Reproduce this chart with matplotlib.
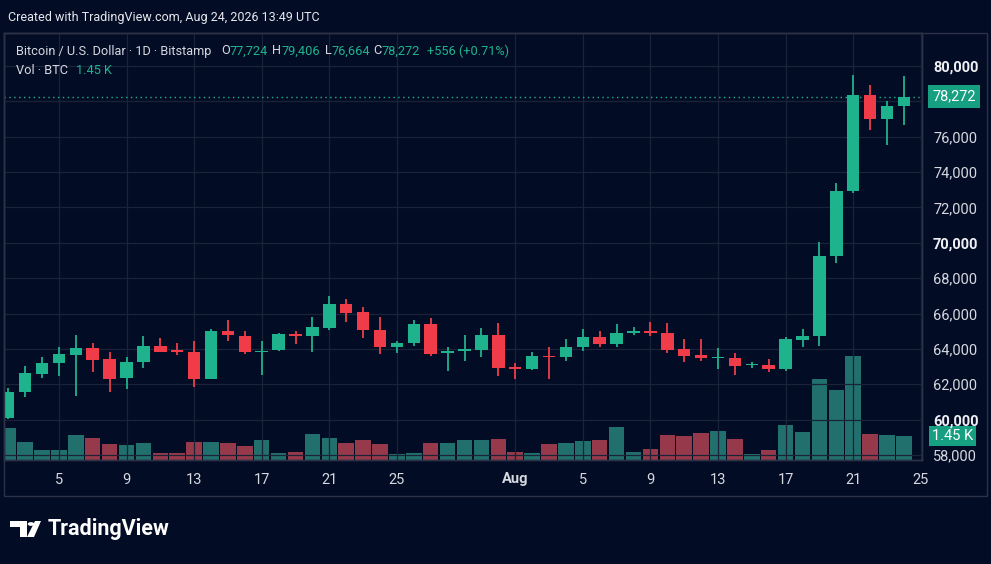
import matplotlib
matplotlib.use("Agg")
import matplotlib.pyplot as plt
from matplotlib.patches import Rectangle, Circle, Polygon
from matplotlib.transforms import blended_transform_factory
import numpy as np

plt.rcParams['font.family'] = ['Roboto', 'DejaVu Sans']

# daily candles, 2 Jul .. 24 Aug 2026 (BTC/USD, Bitstamp)
opens = [60070, 61580, 62580, 63185, 63640, 64050, 63410, 62340, 63240, 64180,
         63900, 63840, 62310, 65030, 64750, 63820, 63940, 64830, 64750, 65180,
         66540, 66100, 65090, 64120, 64320, 65390, 63750, 63900, 63940, 64790,
         62950, 62850, 63620, 63540, 64090, 64660, 64280, 64920, 65010, 64920,
         63980, 63650, 63470, 63500, 63070, 63090, 62870, 64500, 64730, 69250,
         72930, 78360, 76990, 77724]
highs = [61790, 63030, 63520, 64090, 64790, 64350, 63840, 63520, 64730, 64600,
         64320, 64450, 65130, 65630, 65010, 64450, 64920, 65010, 65790, 66990,
         66800, 66350, 65820, 64450, 65630, 65760, 64090, 64790, 65160, 65450,
         63220, 63840, 64090, 64560, 65110, 65030, 65410, 65220, 65500, 65450,
         64540, 64560, 64070, 63750, 63280, 63430, 64660, 65110, 70050, 73370,
         79490, 78930, 78020, 79406]
lows = [60020, 61260, 62340, 62480, 61340, 62710, 61580, 61750, 62940, 63800,
        63640, 61830, 62300, 64450, 63730, 62520, 63900, 64260, 63810, 65070,
        65500, 64630, 63710, 63780, 64180, 63600, 62770, 63320, 63560, 62480,
        62310, 62810, 62310, 63330, 63900, 64090, 64090, 64790, 64730, 63780,
        63260, 63300, 62850, 62540, 62900, 62710, 62750, 64090, 64160, 68840,
        72830, 76380, 75520, 76664]
closes = [61580, 62620, 63185, 63690, 64050, 63370, 62310, 63260, 64180, 63820,
          63850, 62310, 65010, 64770, 63810, 63900, 64830, 64730, 65260, 66540,
          66050, 65070, 64120, 64320, 65390, 63710, 63900, 64010, 64790, 62900,
          62890, 63600, 63540, 64090, 64660, 64280, 64920, 65010, 64920, 63940,
          63620, 63500, 63540, 63030, 63160, 62880, 64540, 64730, 69250, 72930,
          78360, 76990, 77724, 78272]
volumes = [1.92, 1.09, 0.61, 0.61, 1.51, 1.31, 0.95, 0.89, 0.99, 0.42,
           0.42, 1.05, 1.07, 1.03, 0.81, 1.17, 0.42, 0.46, 1.53, 1.33,
           1.01, 1.17, 0.95, 0.36, 0.40, 1.03, 1.03, 1.21, 1.21, 1.27,
           0.46, 0.40, 0.93, 1.03, 1.13, 1.17, 1.98, 0.49, 0.65, 1.51,
           1.43, 1.63, 1.73, 1.27, 0.34, 0.58, 2.10, 1.67, 4.86, 4.20,
           6.23, 1.55, 1.51, 1.45]  # thousands of BTC

tick_days = [3, 7, 11, 15, 19, 23, 30, 34, 38, 42, 46, 50, 54]
tick_labels = ['5', '9', '13', '17', '21', '25', 'Aug', '5', '9', '13', '17', '21', '25']
price_ticks = list(range(58000, 80001, 2000))

BG = '#030c25'
GRID = '#1a2337'
FRAME = '#2b3245'
UP = '#1fb38d'
DOWN = '#f03c48'
VOL_UP = '#21706e'
VOL_DOWN = '#96394a'
TXT = '#d6d9e0'
TAG = '#169f80'

W, H = 991, 564
fig = plt.figure(figsize=(W / 100, H / 100), dpi=100, facecolor=BG)


def fx(px):
    return px / W


def fy(py):
    return 1 - py / H


ax_left, ax_right, ax_top, ax_bot = 4, 922, 33, 460
ax = fig.add_axes([fx(ax_left), fy(ax_bot), fx(ax_right - ax_left), (ax_bot - ax_top) / H])
ax2 = ax.twinx()
ax.set_zorder(ax2.get_zorder() + 1)
ax.patch.set_visible(False)
ax2.set_facecolor(BG)

o = np.array(opens)
h = np.array(highs)
l = np.array(lows)
c = np.array(closes)
v = np.array(volumes)
days = np.arange(len(o))
up = c >= o

# volume
ax2.bar(days, v, width=0.92, color=np.where(up, VOL_UP, VOL_DOWN), zorder=2)
ax2.set_ylim(0, 25.5)
ax2.set_yticks([])

# candles
ax.vlines(days, l, h, colors=np.where(up, UP, DOWN), linewidth=1.3, zorder=3)
body_lo = np.minimum(o, c)
body_h = np.maximum(np.abs(c - o), 70)
ax.bar(days, body_h, bottom=body_lo, width=0.74, color=np.where(up, UP, DOWN), zorder=4)

ax.set_xlim(-0.25, 54.07)
ax.set_ylim(57715, 81866)

last = closes[-1]

ax.set_xticks(tick_days)
ax.set_xticklabels(tick_labels)
ax.set_yticks(price_ticks)
ax.set_yticklabels([f'{p:,}' for p in price_ticks])
ax.yaxis.tick_right()
ax.tick_params(axis='y', length=0, pad=8, labelsize=10.5, labelcolor=TXT)
ax.tick_params(axis='x', length=0, pad=9, labelsize=10.5, labelcolor=TXT)
for lab, p in zip(ax.get_yticklabels(), price_ticks):
    if p % 10000 == 0:
        lab.set_fontweight('bold')
        lab.set_color('#eef0f4')
    if abs(p - last) < 600:
        # covered by the last-price tag on the scale
        lab.set_visible(False)
for lab in ax.get_xticklabels():
    if lab.get_text() == 'Aug':
        lab.set_fontweight('bold')

ax.grid(True, color=GRID, linewidth=0.9)
ax.set_axisbelow(True)
for a in (ax, ax2):
    for s in a.spines.values():
        s.set_color(FRAME)
        s.set_linewidth(1)

# last price line and tags on the scale
ax.axhline(last, color=UP, linestyle=(0, (1, 2.5)), linewidth=1, zorder=2)
trans_p = blended_transform_factory(ax.transAxes, ax.transData)
ax.text(1.0115, last, f'{last:,}', transform=trans_p, ha='left', va='center',
        fontsize=10.5, color='white', zorder=10, clip_on=False,
        bbox=dict(boxstyle='square,pad=0.3', fc=TAG, ec='none'))
trans_v = blended_transform_factory(ax2.transAxes, ax2.transData)
ax2.text(1.0105, volumes[-1], f'{volumes[-1]:.2f} K', transform=trans_v, ha='left', va='center',
         fontsize=10.5, color='white', zorder=10, clip_on=False,
         bbox=dict(boxstyle='square,pad=0.2', fc=TAG, ec='none'))

# outer frame
fig.patches.append(Rectangle((fx(4), fy(496)), fx(983), (496 - 33) / H, transform=fig.transFigure,
                             fill=False, ec=FRAME, lw=1))

# header texts
fig.text(fx(8), fy(18), 'Created with TradingView.com, Aug 24, 2026 13:49 UTC',
         color='#e6e8ee', fontsize=9.0, va='center', ha='left')

renderer = fig.canvas.get_renderer()


def chain(x, y, parts, size=9.2):
    # draw text pieces one after another on a line
    for txt, col in parts:
        t = fig.text(fx(x), fy(y), txt, color=col, fontsize=size, va='center', ha='left')
        x = t.get_window_extent(renderer).x1


chain(16, 51, [('Bitcoin / U.S. Dollar · 1D · Bitstamp', TXT)])
for xpos, key, val in [(221, 'O', '77,724'), (272, 'H', '79,406'), (325, 'L', '76,664'), (373, 'C', '78,272')]:
    chain(xpos, 51, [(key, TXT), (val, UP)])
chain(427, 51, [('+556 (+0.71%)', UP)])
chain(16, 71, [('Vol · BTC', TXT)])
chain(76, 71, [('1.45 K', UP)])

# TradingView logo
lt = fig.transFigure
fig.patches.append(Polygon([(fx(10), fy(521)), (fx(27), fy(521)), (fx(27), fy(537)), (fx(20), fy(537)),
                            (fx(20), fy(527)), (fx(10), fy(527))], closed=True, transform=lt, fc='white', ec='none'))
fig.patches.append(Circle((fx(31), fy(524)), 3.3 / W, transform=lt, fc='white', ec='none'))
fig.patches.append(Polygon([(fx(35), fy(521)), (fx(41), fy(521)), (fx(34), fy(537)), (fx(27), fy(537))],
                           closed=True, transform=lt, fc='white', ec='none'))
fig.text(fx(48), fy(529), 'TradingView', color='white', fontsize=15.5, fontweight='bold',
         va='center', ha='left')

fig.savefig('out.png', dpi=100, facecolor=BG)
